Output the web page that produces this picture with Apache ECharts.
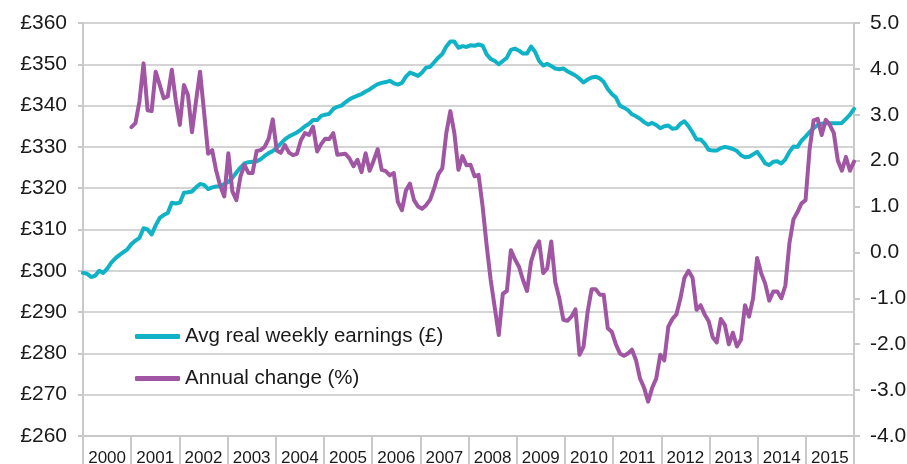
<!DOCTYPE html>
<html>
<head>
<meta charset="utf-8">
<script src="https://cdn.jsdelivr.net/npm/echarts@6/dist/echarts.min.js"></script>
<style>
html,body{margin:0;padding:0;background:#fff;}
#chart{width:907px;height:464px;}
</style>
</head>
<body>
<div id="chart"></div>
<script>
// Year labels (x-axis category bands)
var years = ['2000','2001','2002','2003','2004','2005','2006','2007','2008','2009','2010','2011','2012','2013','2014','2015'];

// Average real weekly earnings (£), monthly Jan 2000 - Dec 2015
var earnings = [
  299.5,299.3,298.5,298.8,300.0,299.5,300.5,302.0,303.0,303.8,304.5,305.2,
  306.5,307.3,308.0,310.3,310.0,308.8,311.0,312.8,313.5,314.0,316.5,316.3,
  316.5,318.9,319.0,319.2,320.2,321.0,320.8,319.8,320.2,320.4,320.5,321.0,
  321.5,322.5,323.8,325.0,326.0,326.3,326.4,326.5,327.0,327.8,328.5,329.0,
  329.8,330.8,331.8,332.5,333.0,333.5,334.2,335.0,335.6,336.5,336.5,337.5,
  337.8,338.0,339.2,339.7,340.0,340.8,341.5,342.0,342.4,342.8,343.4,343.9,
  344.6,345.2,345.5,345.7,346.0,345.4,345.1,345.5,347.0,348.0,347.6,347.2,
  348.0,349.2,349.4,350.5,351.6,352.5,354.3,355.5,355.5,354.0,354.4,354.2,
  354.6,354.5,354.8,354.5,352.4,351.3,350.8,350.0,350.8,351.6,353.5,353.8,
  353.3,352.6,352.6,354.3,353.0,350.8,349.7,350.1,349.6,349.0,348.8,349.0,
  348.3,347.8,347.3,346.5,345.6,346.3,346.8,347.0,346.6,345.7,344.0,342.8,
  342.0,340.0,339.5,338.9,337.9,337.4,336.8,336.0,335.4,335.8,335.3,334.5,
  335.0,335.2,334.4,334.5,335.6,336.2,335.0,333.5,331.8,331.8,330.8,329.3,
  329.1,329.1,329.7,330.0,329.8,329.5,329.0,328.0,327.5,327.6,328.2,328.8,
  327.5,326.0,325.6,326.4,326.5,326.0,327.0,328.8,330.1,330.0,331.5,332.5,
  333.6,334.5,335.3,335.6,335.7,335.7,335.7,335.7,335.8,336.8,337.8,339.2
];

// Annual change (%), monthly; no values during 2000
var annualChange = [
  null,null,null,null,null,null,null,null,null,null,null,null,
  2.73,2.82,3.30,4.12,3.10,3.08,3.94,3.65,3.36,3.40,3.98,3.30,
  2.78,3.65,3.43,2.62,3.30,3.94,3.05,2.15,2.23,1.78,1.45,1.22,
  2.16,1.33,1.14,1.65,1.91,1.73,1.73,2.21,2.23,2.30,2.48,2.90,
  2.22,2.17,2.34,2.18,2.12,2.15,2.45,2.60,2.56,2.74,2.20,2.36,
  2.48,2.47,2.60,2.13,2.14,2.15,2.05,1.88,2.02,1.75,2.16,1.78,
  2.00,2.25,1.80,1.77,1.68,1.73,1.10,0.92,1.35,1.50,1.14,1.00,
  0.95,1.03,1.15,1.40,1.70,1.83,2.60,3.08,2.60,1.80,2.10,1.90,
  1.91,1.66,1.69,1.00,0.15,-0.60,-1.20,-1.80,-0.90,-0.84,0.05,-0.15,
  -0.31,-0.60,-0.84,-0.20,0.08,0.24,-0.45,-0.35,0.24,-0.65,-1.00,-1.47,
  -1.49,-1.40,-1.24,-2.23,-2.05,-1.30,-0.80,-0.80,-0.92,-0.92,-1.65,-1.73,
  -2.00,-2.20,-2.25,-2.20,-2.12,-2.35,-2.75,-2.95,-3.25,-2.95,-2.75,-2.23,
  -2.35,-1.62,-1.45,-1.35,-1.00,-0.55,-0.40,-0.55,-1.25,-1.15,-1.35,-1.50,
  -1.85,-1.96,-1.45,-1.58,-2.00,-1.75,-2.05,-1.90,-1.15,-1.40,-1.00,-0.12,
  -0.45,-0.68,-1.05,-0.85,-0.85,-1.00,-0.72,0.20,0.72,0.88,1.07,1.14,
  2.25,2.88,2.91,2.56,2.89,2.78,2.60,2.00,1.78,2.08,1.78,1.98
];

var seriesNames = ['Avg real weekly earnings (\u00a3)', 'Annual change (%)'];

var months = [];
for (var y = 0; y < years.length; y++) {
  for (var m = 1; m <= 12; m++) months.push(years[y] + '-' + (m < 10 ? '0' + m : m));
}

var FONT = '"Liberation Sans", Arial, sans-serif';
var GRID = '#d4d4d4';
var AXIS = '#c9c9c9';
var TEXT = '#1a1a1a';
var TEAL = '#10b2c6';
var PURPLE = '#a056a3';

var chart = echarts.init(document.getElementById('chart'), null, {renderer: 'canvas'});
chart.setOption({
  animation: false,
  backgroundColor: '#ffffff',
  textStyle: {fontFamily: FONT},
  grid: {left: 83, right: 53, top: 23, bottom: 28, containLabel: false, outerBoundsMode: 'none'},
  legend: {
    orient: 'vertical',
    left: 135,
    top: 325,
    padding: 0,
    itemWidth: 45,
    itemHeight: 5,
    itemGap: 19,
    icon: 'roundRect',
    textStyle: {fontFamily: FONT, fontSize: 20.5, color: TEXT, lineHeight: 23},
    data: seriesNames
  },
  xAxis: [
    {
      type: 'category',
      data: years,
      boundaryGap: true,
      axisLine: {show: true, onZero: false, lineStyle: {color: AXIS, width: 2}},
      axisTick: {show: true, interval: 0, length: 30, lineStyle: {color: AXIS, width: 2}},
      axisLabel: {interval: 0, margin: 14, fontSize: 17, color: TEXT, fontFamily: FONT},
      splitLine: {show: false}
    },
    {
      type: 'category',
      data: months,
      boundaryGap: false,
      show: false,
      axisLine: {onZero: false},
      position: 'bottom'
    }
  ],
  yAxis: [
    {
      type: 'value',
      min: 260, max: 360, interval: 10,
      axisLine: {show: true, onZero: false, lineStyle: {color: AXIS, width: 2}},
      axisTick: {show: true, length: 5, lineStyle: {color: AXIS, width: 2}},
      axisLabel: {margin: 16, fontSize: 21, color: TEXT, fontFamily: FONT,
        formatter: function (v) { return '\u00a3' + v; }},
      splitLine: {show: true, lineStyle: {color: GRID, width: 2}}
    },
    {
      type: 'value',
      position: 'right',
      min: -4, max: 5, interval: 1,
      axisLine: {show: true, onZero: false, lineStyle: {color: AXIS, width: 2}},
      axisTick: {show: true, length: 6, lineStyle: {color: AXIS, width: 2}},
      axisLabel: {margin: 16, fontSize: 21, color: TEXT, fontFamily: FONT,
        formatter: function (v) { return v.toFixed(1); }},
      splitLine: {show: false}
    }
  ],
  series: [
    {
      name: seriesNames[0],
      type: 'line',
      xAxisIndex: 1,
      yAxisIndex: 0,
      data: earnings,
      symbol: 'none',
      lineStyle: {color: TEAL, width: 4, join: 'round', cap: 'round'},
      itemStyle: {color: TEAL},
      z: 3
    },
    {
      name: seriesNames[1],
      type: 'line',
      xAxisIndex: 1,
      yAxisIndex: 1,
      data: annualChange,
      symbol: 'none',
      lineStyle: {color: PURPLE, width: 4, join: 'round', cap: 'round'},
      itemStyle: {color: PURPLE},
      z: 4
    }
  ]
});
</script>
</body>
</html>
